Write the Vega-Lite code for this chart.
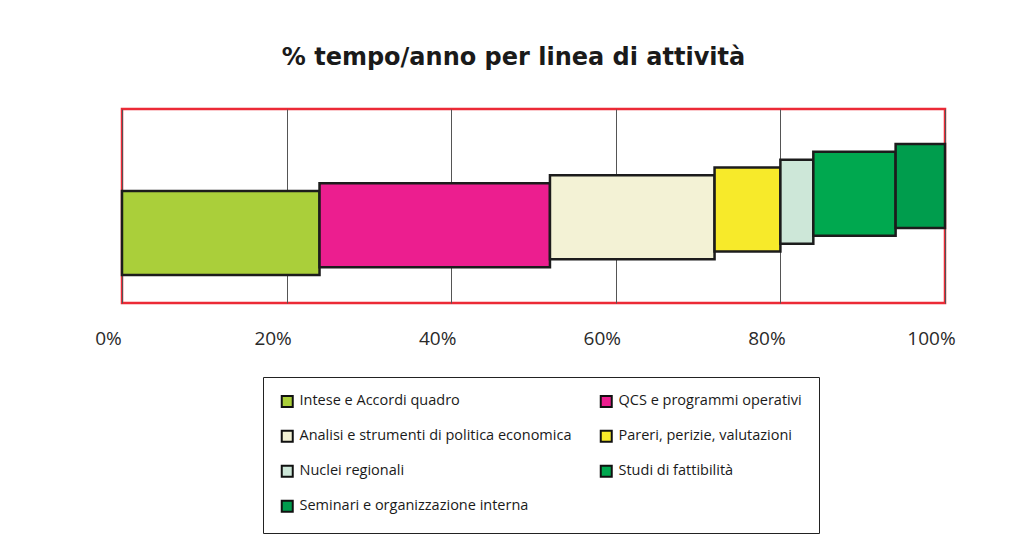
{
  "$schema": "https://vega.github.io/schema/vega-lite/v6.json",
  "autosize": "none",
  "width": 823,
  "height": 194,
  "padding": {"left": 122, "top": 109, "right": 85, "bottom": 255},
  "background": "white",
  "title": {
    "text": "% tempo/anno per linea di attività",
    "font": "DejaVu Sans",
    "fontSize": 24,
    "fontWeight": "bold",
    "color": "#1a1a1a",
    "anchor": "middle",
    "baseline": "alphabetic",
    "offset": 20,
    "dx": -20
  },
  "data": {
    "values": [
      {"attivita": "Intese e Accordi quadro", "quota": 24, "ordine": 1},
      {"attivita": "QCS e programmi operativi", "quota": 28, "ordine": 2},
      {"attivita": "Analisi e strumenti di politica economica", "quota": 20, "ordine": 3},
      {"attivita": "Pareri, perizie, valutazioni", "quota": 8, "ordine": 4},
      {"attivita": "Nuclei regionali", "quota": 4, "ordine": 5},
      {"attivita": "Studi di fattibilità", "quota": 10, "ordine": 6},
      {"attivita": "Seminari e organizzazione interna", "quota": 6, "ordine": 7}
    ]
  },
  "transform": [
    {"stack": "quota", "groupby": [], "sort": [{"field": "ordine", "order": "ascending"}], "as": ["inizio", "fine"]}
  ],
  "mark": {"type": "bar", "size": 84, "stroke": "#1c1c1c", "strokeWidth": 2.5, "strokeJoin": "miter"},
  "encoding": {
    "x": {
      "field": "inizio",
      "type": "quantitative",
      "scale": {"domain": [0, 100], "nice": false},
      "axis": {
        "values": [0, 20, 40, 60, 80, 100],
        "labelExpr": "datum.value + '%'",
        "title": null,
        "domain": false,
        "ticks": false,
        "tickSize": 0,
        "grid": true,
        "gridColor": "#555555",
        "gridWidth": 1,
        "labelFont": "Open Sans",
        "labelFontSize": 19,
        "labelColor": "#2a2a2a",
        "labelPadding": 26,
        "labelOffset": -14,
        "labelFlush": false
      }
    },
    "x2": {"field": "fine"},
    "y": {
      "field": "ordine",
      "type": "quantitative",
      "scale": {"domain": [-7.3, 16.2], "nice": false, "zero": false},
      "axis": null
    },
    "color": {
      "field": "attivita",
      "type": "nominal",
      "scale": {
        "domain": [
          "Intese e Accordi quadro",
          "Analisi e strumenti di politica economica",
          "Nuclei regionali",
          "Seminari e organizzazione interna",
          "QCS e programmi operativi",
          "Pareri, perizie, valutazioni",
          "Studi di fattibilità"
        ],
        "range": ["#aacf3a", "#f3f2d5", "#cde7d8", "#009d4d", "#ec1e8f", "#f7ea2a", "#00a84f"]
      },
      "legend": {
        "title": null,
        "orient": "none",
        "legendX": 141,
        "legendY": 268,
        "direction": "vertical",
        "columns": 2,
        "columnPadding": 24,
        "rowPadding": 15,
        "padding": 17,
        "fillColor": "white",
        "strokeColor": "#222222",
        "symbolType": "square",
        "symbolSize": 121,
        "symbolStrokeColor": "#111111",
        "symbolStrokeWidth": 2,
        "symbolOpacity": 1,
        "labelFont": "Open Sans",
        "labelFontSize": 14.5,
        "labelColor": "#1a1a1a",
        "labelOffset": 5,
        "labelLimit": 400
      }
    }
  },
  "config": {
    "view": {"stroke": "#ec2a36", "strokeWidth": 2.5}
  }
}
